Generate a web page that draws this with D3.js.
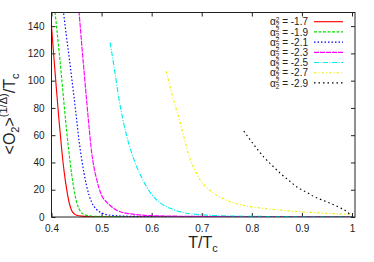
<!DOCTYPE html>
<html>
<head>
<meta charset="utf-8">
<script src="https://cdn.jsdelivr.net/npm/d3@7"></script>
<style>
  body { margin: 0; background: #fff; }
  svg { display: block; font-family: "Liberation Sans", Arial, sans-serif; }
</style>
</head>
<body>
<div id="chart"></div>
<script>
// curve data, one pair of arrays per alpha value
const t17 = [0.400, 0.405, 0.410, 0.415, 0.420, 0.425, 0.430, 0.435, 0.440, 0.445, 0.450, 0.460, 0.480, 0.500, 0.600, 0.800, 1.000];
const o17 = [140, 116, 93, 71, 51, 34, 21, 11, 5, 2.5, 1.3, 0.6, 0.3, 0.2, 0.1, 0.05, 0];

const t19 = [0.404, 0.410, 0.415, 0.420, 0.425, 0.430, 0.435, 0.440, 0.445, 0.450, 0.455, 0.460, 0.470, 0.480, 0.500, 0.600, 0.800, 1.000];
const o19 = [160, 140, 122, 103, 83, 64, 47, 32, 20, 11, 6, 3, 1.2, 0.7, 0.4, 0.15, 0.05, 0];

const t21 = [0.420, 0.425, 0.430, 0.435, 0.440, 0.445, 0.450, 0.455, 0.460, 0.465, 0.470, 0.475, 0.480, 0.490, 0.500, 0.520, 0.550, 0.600, 0.700, 0.800, 1.000];
const o21 = [162, 147, 132, 118, 103, 88, 72, 56, 43, 32, 23, 16, 11, 5.5, 3, 1.2, 0.6, 0.3, 0.15, 0.08, 0];

const t23 = [0.452, 0.455, 0.460, 0.465, 0.470, 0.475, 0.480, 0.485, 0.490, 0.495, 0.500, 0.510, 0.520, 0.530, 0.550, 0.600, 0.700, 0.800, 0.900, 1.000];
const o23 = [160, 150, 128, 107, 86, 66, 48, 36, 28, 21, 16, 11, 7.5, 5, 2.7, 1, 0.4, 0.2, 0.1, 0];

const t25 = [0.517, 0.525, 0.535, 0.549, 0.560, 0.570, 0.580, 0.590, 0.600, 0.610, 0.625, 0.643, 0.660, 0.700, 0.750, 0.800, 0.900, 1.000];
const o25 = [128, 110, 86, 61, 47, 37, 29, 22, 16.5, 12.5, 8.5, 5.5, 3.5, 1.6, 0.8, 0.5, 0.2, 0];

const t27 = [0.629, 0.640, 0.650, 0.657, 0.667, 0.677, 0.687, 0.697, 0.710, 0.724, 0.740, 0.757, 0.790, 0.820, 0.857, 0.890, 0.924, 0.960, 0.990, 1.000];
const o27 = [107, 91, 78, 69, 55, 42, 34, 27, 21.5, 17.4, 14, 11.2, 8, 6.5, 5.1, 4, 3.2, 2.5, 2, 1.8];

const t29 = [0.784, 0.800, 0.824, 0.840, 0.857, 0.875, 0.890, 0.910, 0.924, 0.940, 0.957, 0.975, 0.990, 0.997];
const o29 = [63, 55, 44, 38, 32, 26.5, 22, 18, 15, 12.5, 10, 7, 3.9, 1.5];

const labels = ["-1.7", "-1.9", "-2.1", "-2.3", "-2.5", "-2.7", "-2.9"];
const xTicks = [0.4, 0.5, 0.6, 0.7, 0.8, 0.9, 1];
const yTicks = [0, 20, 40, 60, 80, 100, 120, 140];

const series = [
  { name: labels[0], t: t17, o: o17, color: "#ff0000", dash: null },
  { name: labels[1], t: t19, o: o19, color: "#00e000", dash: "3,1.5" },
  { name: labels[2], t: t21, o: o21, color: "#0000ff", dash: "1.5,2" },
  { name: labels[3], t: t23, o: o23, color: "#ff00ff", dash: "5,1" },
  { name: labels[4], t: t25, o: o25, color: "#00eeee", dash: "5,1.5,1,1.5" },
  { name: labels[5], t: t27, o: o27, color: "#eeee00", dash: "2.5,2,1,2" },
  { name: labels[6], t: t29, o: o29, color: "#000000", dash: "1.5,3" }
];

const W = 374, H = 262;
const margin = { top: 12.5, right: 19, bottom: 45, left: 51.5 };

const svg = d3.select("#chart").append("svg")
  .attr("width", W)
  .attr("height", H);

const x = d3.scaleLinear().domain([0.4, 1.006]).range([margin.left, W - margin.right]);
const y = d3.scaleLinear().domain([0, 150]).range([H - margin.bottom, margin.top]);

svg.append("clipPath").attr("id", "clip")
  .append("rect")
  .attr("x", x(0.4)).attr("y", y(150))
  .attr("width", x(1.006) - x(0.4)).attr("height", y(0) - y(150));

// axes with inward ticks, mirrored on top and right
const tk = 4;
svg.append("g")
  .attr("transform", "translate(0," + y(0) + ")")
  .call(d3.axisBottom(x).tickValues(xTicks).tickSize(-tk).tickPadding(tk + 4).tickFormat(d3.format("")))
  .call(g => g.select(".domain").remove());
svg.append("g")
  .attr("transform", "translate(0," + y(150) + ")")
  .call(d3.axisTop(x).tickValues(xTicks).tickSize(-tk).tickFormat(""))
  .call(g => g.select(".domain").remove());
svg.append("g")
  .attr("transform", "translate(" + x(0.4) + ",0)")
  .call(d3.axisLeft(y).tickValues(yTicks).tickSize(-tk).tickPadding(tk + 3))
  .call(g => g.select(".domain").remove());
svg.append("g")
  .attr("transform", "translate(" + x(1.006) + ",0)")
  .call(d3.axisRight(y).tickValues(yTicks).tickSize(-tk).tickFormat(""))
  .call(g => g.select(".domain").remove());

svg.selectAll(".tick text")
  .attr("font-size", 10)
  .attr("font-family", "Liberation Sans, Arial, sans-serif")
  .attr("fill", "#222");
svg.selectAll(".tick line").attr("stroke", "#222");

// curves
const line = d3.line()
  .x(d => x(d[0]))
  .y(d => y(d[1]))
  .curve(d3.curveMonotoneX);

const plot = svg.append("g").attr("clip-path", "url(#clip)");
series.forEach(s => {
  plot.append("path")
    .datum(d3.zip(s.t, s.o))
    .attr("fill", "none")
    .attr("stroke", s.color)
    .attr("stroke-width", 1.15)
    .attr("stroke-dasharray", s.dash)
    .attr("d", line);
});

// border
svg.append("rect")
  .attr("x", x(0.4)).attr("y", y(150))
  .attr("width", x(1.006) - x(0.4)).attr("height", y(0) - y(150))
  .attr("fill", "none")
  .attr("stroke", "#222")
  .attr("stroke-width", 1);

// legend
const lg = svg.append("g");
series.forEach((s, i) => {
  const cy = 21.7 + i * 10.2;
  const t = lg.append("text")
    .attr("x", 308)
    .attr("y", cy + 3.6)
    .attr("text-anchor", "end")
    .attr("font-size", 10)
    .attr("fill", "#222");
  t.append("tspan").text("α");
  t.append("tspan").attr("font-size", 6.5).attr("dy", -3.5).text("2");
  t.append("tspan").attr("font-size", 6.5).attr("dx", -3.6).attr("dy", 5.5).text("2");
  t.append("tspan").attr("dy", -2).text("  = " + s.name);
  lg.append("line")
    .attr("x1", 314).attr("x2", 343)
    .attr("y1", cy).attr("y2", cy)
    .attr("stroke", s.color)
    .attr("stroke-width", 1.15)
    .attr("stroke-dasharray", s.dash);
});

// axis titles
const xl = svg.append("text")
  .attr("x", 203)
  .attr("y", 248)
  .attr("text-anchor", "middle")
  .attr("font-size", 16)
  .attr("fill", "#222");
xl.append("tspan").text("T/T");
xl.append("tspan").attr("font-size", 11).attr("dy", 4).text("c");

const yl = svg.append("text")
  .attr("transform", "translate(15,114) rotate(-90)")
  .attr("text-anchor", "middle")
  .attr("font-size", 16)
  .attr("fill", "#222");
yl.append("tspan").text("<O");
yl.append("tspan").attr("font-size", 11).attr("dy", 4).text("2");
yl.append("tspan").attr("dy", -4).text(">");
yl.append("tspan").attr("font-size", 11).attr("dy", -8).text("(1/Δ)");
yl.append("tspan").attr("dy", 8).text("/T");
yl.append("tspan").attr("font-size", 11).attr("dy", 4).text("c");
</script>
</body>
</html>
